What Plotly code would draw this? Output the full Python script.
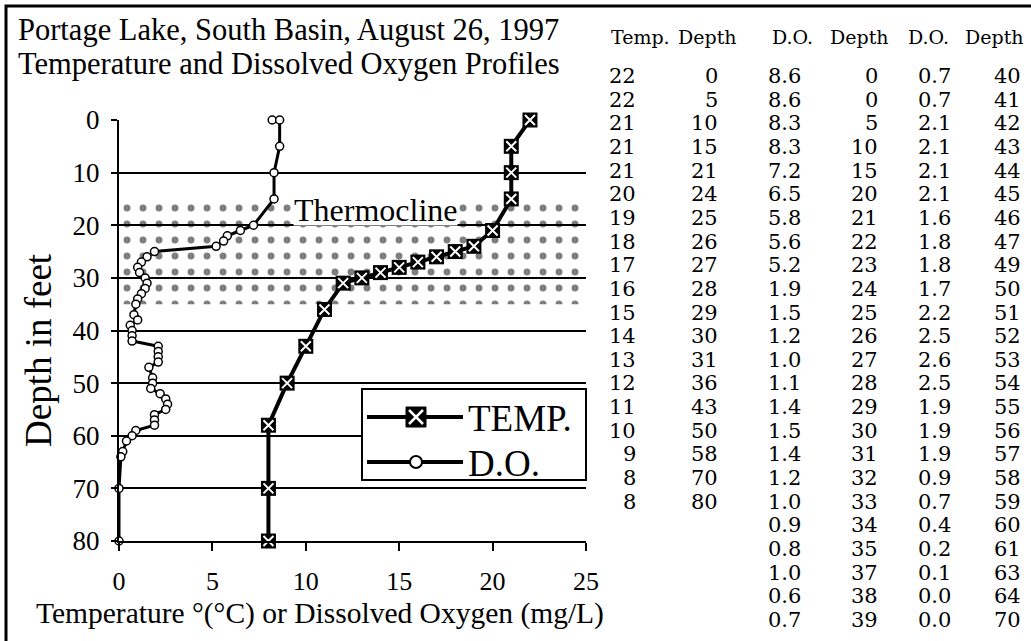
import plotly.graph_objects as go

# ---------------- data ----------------
# table as printed on the right
table_temp = [22, 22, 21, 21, 21, 20, 19, 18, 17, 16, 15, 14, 13, 12, 11, 10, 9, 8, 8]
table_temp_depth = [0, 5, 10, 15, 21, 24, 25, 26, 27, 28, 29, 30, 31, 36, 43, 50, 58, 70, 80]
table_do_1 = [8.6, 8.6, 8.3, 8.3, 7.2, 6.5, 5.8, 5.6, 5.2, 1.9, 1.5, 1.2, 1.0, 1.1, 1.4, 1.5,
              1.4, 1.2, 1.0, 0.9, 0.8, 1.0, 0.6, 0.7]
table_do_depth_1 = [0, 0, 5, 10, 15, 20, 21, 22, 23, 24, 25, 26, 27, 28, 29, 30, 31, 32, 33,
                    34, 35, 37, 38, 39]
table_do_2 = [0.7, 0.7, 2.1, 2.1, 2.1, 2.1, 1.6, 1.8, 1.8, 1.7, 2.2, 2.5, 2.6, 2.5, 1.9, 1.9,
              1.9, 0.9, 0.7, 0.4, 0.2, 0.1, 0.0, 0.0]
table_do_depth_2 = [40, 41, 42, 43, 44, 45, 46, 47, 49, 50, 51, 52, 53, 54, 55, 56, 57, 58, 59,
                    60, 61, 63, 64, 70]
table_headers = ["Temp.", "Depth", "D.O.", "Depth", "D.O.", "Depth"]

# profiles as drawn in the chart
plot_temp = [22, 21, 21, 21, 20, 19, 18, 17, 16, 15, 14, 13, 12, 11, 10, 9, 8, 8, 8]
plot_temp_depth = [0, 5, 10, 15, 21, 24, 25, 26, 27, 28, 29, 30, 31, 36, 43, 50, 58, 70, 80]
plot_do = [8.2, 8.6, 8.6, 8.3, 8.3, 7.2, 6.5, 5.8, 5.6, 5.2, 1.9, 1.5, 1.2, 1.0, 1.1, 1.4, 1.5,
           1.4, 1.2, 1.0, 0.9, 0.8, 1.0, 0.6, 0.7, 0.7, 0.7, 2.1, 2.1, 2.1, 2.1, 1.6, 1.8, 1.8,
           1.7, 2.2, 2.5, 2.6, 2.5, 1.9, 1.9, 1.9, 0.9, 0.7, 0.4, 0.2, 0.1, 0.0, 0.0]
plot_do_depth = [0, 0, 5, 10, 15, 20, 21, 22, 23, 24, 25, 26, 27, 28, 29, 30, 31, 32, 33, 34,
                 35, 37, 38, 39, 40, 41, 42, 43, 44, 45, 46, 47, 49, 50, 51, 52, 53, 54, 55, 56,
                 57, 58, 59, 60, 61, 63, 64, 70, 80]

thermocline_depth = [15, 35]
x_range = [0, 25]
x_ticks = [0, 5, 10, 15, 20, 25]
depth_ticks = [0, 10, 20, 30, 40, 50, 60, 70, 80]

# ---------------- layout geometry ----------------
W, H = 1031, 641
L, R, T, B = 119, 586, 120, 541
SERIF = "Liberation Serif, Times New Roman, serif"
TSERIF = "DejaVu Serif, serif"


def px2x(px):
    return (px - L) / (R - L)


def py2y(py):
    return (B - py) / (B - T)


fig = go.Figure()

# thermocline band (dotted)
fig.add_trace(go.Scatter(
    x=[x_range[0], x_range[1], x_range[1], x_range[0], x_range[0]],
    y=[thermocline_depth[0], thermocline_depth[0], thermocline_depth[1], thermocline_depth[1],
       thermocline_depth[0]],
    mode="lines", line=dict(width=0), fill="toself",
    fillcolor="rgba(0,0,0,0)",
    fillpattern=dict(shape=".", fgcolor="black", bgcolor="rgba(0,0,0,0)", size=16,
                     solidity=0.15),
    hoverinfo="skip", showlegend=False))

# D.O. profile
fig.add_trace(go.Scatter(
    x=plot_do, y=plot_do_depth, mode="lines+markers", name="D.O.",
    line=dict(color="black", width=3),
    marker=dict(symbol="circle", size=8, color="white", line=dict(color="black", width=1.5)),
    cliponaxis=False, showlegend=False))

# temperature profile
fig.add_trace(go.Scatter(
    x=plot_temp, y=plot_temp_depth, mode="lines+markers", name="TEMP.",
    line=dict(color="black", width=4),
    marker=dict(symbol="square", size=15, color="black"),
    cliponaxis=False, showlegend=False))
fig.add_trace(go.Scatter(
    x=plot_temp, y=plot_temp_depth, mode="markers",
    marker=dict(symbol="x-thin", size=10, color="white", line=dict(color="white", width=2)),
    cliponaxis=False, showlegend=False, hoverinfo="skip"))

annotations = []
shapes = []

# titles
annotations.append(dict(text="Portage Lake, South Basin, August 26, 1997", xref="paper",
                        yref="paper", x=px2x(16), y=py2y(30), xanchor="left", yanchor="middle",
                        showarrow=False, font=dict(family=SERIF, size=30.5, color="black")))
annotations.append(dict(text="Temperature and Dissolved Oxygen Profiles", xref="paper",
                        yref="paper", x=px2x(16), y=py2y(64), xanchor="left", yanchor="middle",
                        showarrow=False, font=dict(family=SERIF, size=30.5, color="black")))
# axis titles
annotations.append(dict(text="Depth in feet", xref="paper", yref="paper", x=px2x(38),
                        y=py2y(350), xanchor="center", yanchor="middle", textangle=-90,
                        showarrow=False, font=dict(family=SERIF, size=37, color="black")))
annotations.append(dict(text="Temperature °(°C) or Dissolved Oxygen (mg/L)", xref="paper",
                        yref="paper", x=px2x(320), y=py2y(613), xanchor="center",
                        yanchor="middle", showarrow=False,
                        font=dict(family=SERIF, size=29.5, color="black")))
# thermocline label
annotations.append(dict(text="Thermocline", xref="paper", yref="paper", x=px2x(375),
                        y=py2y(210), xanchor="center", yanchor="middle", height=30,
                        bgcolor="white", borderpad=0, showarrow=False,
                        font=dict(family=SERIF, size=32, color="black")))

# manual legend
shapes.append(dict(type="rect", xref="paper", yref="paper", x0=px2x(362), x1=px2x(586),
                   y0=py2y(389), y1=py2y(480), line=dict(color="black", width=2),
                   fillcolor="white", layer="above"))
for yy in (417, 462):
    shapes.append(dict(type="line", xref="paper", yref="paper", x0=px2x(367), x1=px2x(463),
                       y0=py2y(yy), y1=py2y(yy), line=dict(color="black", width=4),
                       layer="above"))
shapes.append(dict(type="rect", xref="paper", yref="paper", x0=px2x(406), x1=px2x(426),
                   y0=py2y(407), y1=py2y(427), line=dict(color="black", width=1),
                   fillcolor="black", layer="above"))
shapes.append(dict(type="line", xref="paper", yref="paper", x0=px2x(409), x1=px2x(423),
                   y0=py2y(410), y1=py2y(424), line=dict(color="white", width=2.5),
                   layer="above"))
shapes.append(dict(type="line", xref="paper", yref="paper", x0=px2x(409), x1=px2x(423),
                   y0=py2y(424), y1=py2y(410), line=dict(color="white", width=2.5),
                   layer="above"))
shapes.append(dict(type="circle", xref="paper", yref="paper", x0=px2x(410), x1=px2x(422),
                   y0=py2y(456), y1=py2y(468), line=dict(color="black", width=2),
                   fillcolor="white", layer="above"))
annotations.append(dict(text="TEMP.", xref="paper", yref="paper", x=px2x(466), y=py2y(418),
                        xanchor="left", yanchor="middle", showarrow=False,
                        font=dict(family=SERIF, size=37, color="black")))
annotations.append(dict(text="D.O.", xref="paper", yref="paper", x=px2x(466), y=py2y(463),
                        xanchor="left", yanchor="middle", showarrow=False,
                        font=dict(family=SERIF, size=37, color="black")))

# outer frame
shapes.append(dict(type="rect", xref="paper", yref="paper", x0=px2x(6), x1=px2x(1060),
                   y0=py2y(680), y1=py2y(6), line=dict(color="black", width=3),
                   fillcolor="rgba(0,0,0,0)", layer="above"))

# data table
header_center = [640, 707, 792, 859, 928, 994]
col_right = [638, 720, 803, 880, 953, 1023]
header_y = 37
row_y0, row_step = 76, 23.65
for h, xc in zip(table_headers, header_center):
    annotations.append(dict(text=h, xref="paper", yref="paper", x=px2x(xc), y=py2y(header_y),
                            xanchor="center", yanchor="middle", showarrow=False,
                            font=dict(family=TSERIF, size=19, color="black")))
columns = [
    [str(v) for v in table_temp],
    [str(v) for v in table_temp_depth],
    [f"{v:.1f}" for v in table_do_1],
    [str(v) for v in table_do_depth_1],
    [f"{v:.1f}" for v in table_do_2],
    [str(v) for v in table_do_depth_2],
]
for col, xr in zip(columns, col_right):
    for i, txt in enumerate(col):
        annotations.append(dict(text=txt, xref="paper", yref="paper", x=px2x(xr),
                                y=py2y(row_y0 + i * row_step), xanchor="right",
                                yanchor="middle", showarrow=False,
                                font=dict(family=TSERIF, size=21, color="black")))

fig.update_layout(
    width=W, height=H,
    margin=dict(l=L, r=W - R, t=T, b=H - B, pad=0),
    paper_bgcolor="white", plot_bgcolor="white",
    showlegend=False,
    font=dict(family=SERIF, color="black"),
    xaxis=dict(range=x_range, tickvals=x_ticks, ticks="outside", ticklen=8, tickwidth=2,
               tickcolor="black", showline=True, linecolor="black", linewidth=2,
               showgrid=False, zeroline=False, ticklabelstandoff=8,
               tickfont=dict(family=SERIF, size=26, color="black")),
    xaxis2=dict(range=x_range, tickvals=x_ticks, ticks="inside", ticklen=8, tickwidth=2,
                tickcolor="black", overlaying="x", anchor="y", side="bottom",
                showline=False, showgrid=False, zeroline=False, showticklabels=False),
    yaxis=dict(range=[80, 0], tickvals=depth_ticks, ticks="outside", ticklen=6, tickwidth=2,
               tickcolor="black", showline=True, linecolor="black", linewidth=2,
               showgrid=True, gridcolor="black", gridwidth=2, zeroline=False,
               ticklabelstandoff=6, tickfont=dict(family=SERIF, size=27, color="black")),
    annotations=annotations,
    shapes=shapes,
)

fig.write_html("out.html",
               config={"displayModeBar": False},
               post_script="document.body.style.margin='0px';"
                           "document.body.style.overflow='hidden';")
